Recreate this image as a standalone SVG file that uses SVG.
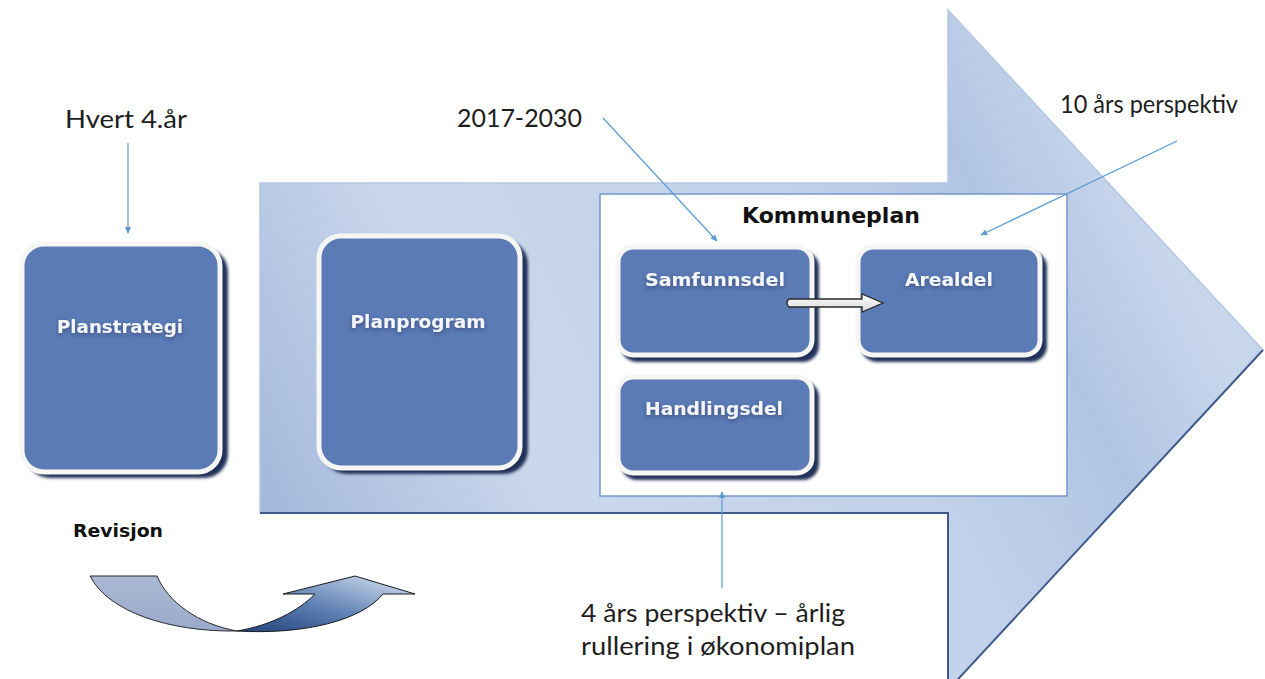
<svg xmlns="http://www.w3.org/2000/svg" width="1265" height="679" viewBox="0 0 1265 679">
<style>
.lbl{font-family:Lato,"Open Sans","Liberation Sans",sans-serif;font-size:25px;fill:#1e1e1e}
.wt{font-family:"DejaVu Sans","Liberation Sans",sans-serif;font-weight:bold;font-size:18px;fill:#f4f6fa;text-anchor:middle}
.bt{font-family:"DejaVu Sans","Liberation Sans",sans-serif;font-weight:bold;fill:#111}
.node{fill:#5b7bb6;stroke:#f6f6f4;stroke-width:5}
.shadow{fill:#23335a;filter:url(#blur)}
.conn{stroke:#5b9bd5;stroke-width:1.2;fill:none;marker-end:url(#ah)}
</style>
<defs>
<linearGradient id="bigGrad" gradientUnits="userSpaceOnUse" x1="260" y1="560" x2="1100" y2="120">
<stop offset="0" stop-color="#9fb5d9"/>
<stop offset="0.3" stop-color="#cad7ec"/>
<stop offset="0.65" stop-color="#c2d2ea"/>
<stop offset="0.85" stop-color="#b1c5e3"/>
<stop offset="1" stop-color="#c8d6ec"/>
</linearGradient>
<linearGradient id="revR" x1="0" y1="1" x2="1" y2="0">
<stop offset="0" stop-color="#20407a"/>
<stop offset="0.45" stop-color="#5d7fb3"/>
<stop offset="1" stop-color="#dce7f5"/>
</linearGradient>
<linearGradient id="revL" x1="0" y1="0" x2="0" y2="1">
<stop offset="0" stop-color="#aab8d2"/>
<stop offset="1" stop-color="#9aaacb"/>
</linearGradient>
<linearGradient id="whiteArrow" x1="0" y1="0" x2="0" y2="1">
<stop offset="0" stop-color="#ffffff"/>
<stop offset="1" stop-color="#d8d8d8"/>
</linearGradient>
<filter id="blur" x="-10%" y="-10%" width="120%" height="120%"><feGaussianBlur stdDeviation="1.5"/></filter>
<filter id="tsh" x="-10%" y="-30%" width="120%" height="160%"><feDropShadow dx="0" dy="2" stdDeviation="2" flood-color="#1d2c50" flood-opacity="0.5"/></filter>
<marker id="ah" viewBox="0 0 10 10" refX="9" refY="5" markerWidth="7" markerHeight="7" orient="auto" markerUnits="userSpaceOnUse">
<path d="M0,0.5 L10,5 L0,9.5 Z" fill="#5b9bd5"/>
</marker>
</defs>
<rect width="1265" height="679" fill="#ffffff"/>

<g id="big-arrow">
<path d="M260,183 L948,183 L948,10 L1263,350 L948,690 L948,513 L260,513 Z" fill="url(#bigGrad)"/>
<path d="M260,513 L260,183 L948,183 L948,10 L1263,350" fill="none" stroke="#b4c7e3" stroke-width="1.5"/>
<path d="M260,513 L948,513 L948,690 M1263,350 L948,690" fill="none" stroke="#3f5a8c" stroke-width="2"/>
</g>

<g id="kommuneplan">
<rect x="600" y="194" width="467" height="302" fill="#ffffff" stroke="#7597cc" stroke-width="1.5"/>
<text class="bt" x="831" y="223" font-size="22" text-anchor="middle" textLength="178" lengthAdjust="spacingAndGlyphs">Kommuneplan</text>
</g>

<g id="planstrategi">
<rect class="shadow" x="26" y="248" width="202" height="230" rx="24"/>
<rect class="node" x="22" y="244" width="198" height="228" rx="22"/>
<text class="wt" x="120" y="333" filter="url(#tsh)" textLength="126" lengthAdjust="spacingAndGlyphs">Planstrategi</text>
</g>

<g id="planprogram">
<rect class="shadow" x="323" y="240" width="205" height="234" rx="24"/>
<rect class="node" x="319" y="236" width="201" height="232" rx="22"/>
<text class="wt" x="418" y="328" filter="url(#tsh)" textLength="135" lengthAdjust="spacingAndGlyphs">Planprogram</text>
</g>

<g id="samfunnsdel">
<rect class="shadow" x="621" y="251" width="198" height="111" rx="16"/>
<rect class="node" x="618" y="247" width="194" height="108" rx="15"/>
<text class="wt" x="715" y="286" filter="url(#tsh)" textLength="140" lengthAdjust="spacingAndGlyphs">Samfunnsdel</text>
</g>

<g id="arealdel">
<rect class="shadow" x="861" y="251" width="186" height="111" rx="16"/>
<rect class="node" x="858" y="247" width="182" height="108" rx="15"/>
<text class="wt" x="949" y="286" filter="url(#tsh)" textLength="88" lengthAdjust="spacingAndGlyphs">Arealdel</text>
</g>

<g id="handlingsdel">
<rect class="shadow" x="621" y="381" width="198" height="99" rx="16"/>
<rect class="node" x="618" y="377" width="194" height="96" rx="15"/>
<text class="wt" x="714" y="415" filter="url(#tsh)" textLength="138" lengthAdjust="spacingAndGlyphs">Handlingsdel</text>
</g>

<g id="labels">
<text class="lbl" x="65" y="128" textLength="122" lengthAdjust="spacingAndGlyphs">Hvert 4.år</text>
<text class="lbl" x="457" y="127" textLength="125" lengthAdjust="spacingAndGlyphs">2017-2030</text>
<text class="lbl" x="1060" y="113" textLength="178" lengthAdjust="spacingAndGlyphs">10 års perspektiv</text>
<text class="lbl" x="581" y="622" textLength="264" lengthAdjust="spacingAndGlyphs">4 års perspektiv – årlig</text>
<text class="lbl" x="581" y="655" textLength="274" lengthAdjust="spacingAndGlyphs">rullering i økonomiplan</text>
</g>

<g id="revisjon">
<text class="bt" x="73" y="537" font-size="18" textLength="90" lengthAdjust="spacingAndGlyphs">Revisjon</text>
<path d="M90,576 L157,576 C168,602 198,624 237,631 C170,632 108,612 90,576 Z" fill="url(#revL)" stroke="#2a2a2a" stroke-width="1"/>
<path d="M237,631 C272,625 298,611 315,594 L283,594 L355,576 L415,594 L383,594 C362,620 305,635 237,631 Z" fill="url(#revR)" stroke="#1a1a1a" stroke-width="1"/>
</g>

<g id="connectors">
<line class="conn" x1="128" y1="143" x2="128" y2="233"/>
<line class="conn" x1="603" y1="118" x2="717" y2="241"/>
<line class="conn" x1="1177" y1="141" x2="981" y2="235"/>
<line class="conn" x1="722" y1="588" x2="722" y2="492"/>
<path d="M789,299 L862,299 L862,294 L883,303 L862,312 L862,307 L789,307 Q785,303 789,299 Z" fill="url(#whiteArrow)" stroke="#2a2a2a" stroke-width="1.3"/>
</g>
</svg>
